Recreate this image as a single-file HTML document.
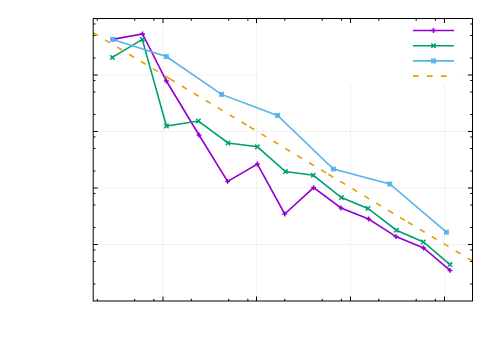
<!DOCTYPE html>
<html><head><meta charset="utf-8"><title>plot</title>
<style>html,body{margin:0;padding:0;background:#fff;font-family:"Liberation Sans",sans-serif}svg{display:block}</style></head>
<body>
<svg width="500" height="350" viewBox="0 0 500 350">
<rect width="500" height="350" fill="#fff"/>
<path d="M163.00 19V301.0M256.50 19V301.0M350.50 19V301.0M444.50 19V301.0M94 75.00H472.5M94 131.50H472.5M94 188.00H472.5M94 244.50H472.5" stroke="#e4e4e4" stroke-width="1" stroke-dasharray="1 1.06" fill="none"/>
<polyline points="112.6,39.4 142.5,33.9 166.4,81.0 199.0,135.0 227.6,181.4 257.4,164.0 284.7,214.0 313.6,187.6 341.0,208.0 368.6,219.0 396.0,236.6 423.6,248.0 450.0,270.4" fill="none" stroke="#9400D3" stroke-width="1.6" stroke-linejoin="miter" stroke-linecap="butt"/>
<path d="M110.2 39.4H115.0M112.6 37.0V41.8M140.1 33.9H144.9M142.5 31.5V36.3M164.0 81.0H168.8M166.4 78.6V83.4M196.6 135.0H201.4M199.0 132.6V137.4M225.2 181.4H230.0M227.6 179.0V183.8M255.0 164.0H259.8M257.4 161.6V166.4M282.3 214.0H287.1M284.7 211.6V216.4M311.2 187.6H316.0M313.6 185.2V190.0M338.6 208.0H343.4M341.0 205.6V210.4M366.2 219.0H371.0M368.6 216.6V221.4M393.6 236.6H398.4M396.0 234.2V239.0M421.2 248.0H426.0M423.6 245.6V250.4M447.6 270.4H452.4M450.0 268.0V272.8" fill="none" stroke="#9400D3" stroke-width="1.5"/>
<polyline points="112.4,57.4 142.3,39.4 166.4,126.0 198.4,121.0 228.0,143.0 257.4,146.8 285.4,171.6 313.3,175.3 341.4,197.6 368.0,208.4 396.4,230.2 423.4,242.0 450.0,264.6" fill="none" stroke="#009E73" stroke-width="1.6" stroke-linejoin="miter" stroke-linecap="butt"/>
<path d="M110.2 55.2L114.6 59.6M110.2 59.6L114.6 55.2M140.1 37.2L144.5 41.6M140.1 41.6L144.5 37.2M164.2 123.8L168.6 128.2M164.2 128.2L168.6 123.8M196.2 118.8L200.6 123.2M196.2 123.2L200.6 118.8M225.8 140.8L230.2 145.2M225.8 145.2L230.2 140.8M255.2 144.6L259.6 149.0M255.2 149.0L259.6 144.6M283.2 169.4L287.6 173.8M283.2 173.8L287.6 169.4M311.1 173.1L315.5 177.5M311.1 177.5L315.5 173.1M339.2 195.4L343.6 199.8M339.2 199.8L343.6 195.4M365.8 206.2L370.2 210.6M365.8 210.6L370.2 206.2M394.2 228.0L398.6 232.4M394.2 232.4L398.6 228.0M421.2 239.8L425.6 244.2M421.2 244.2L425.6 239.8M447.8 262.4L452.2 266.8M447.8 266.8L452.2 262.4" fill="none" stroke="#009E73" stroke-width="1.5"/>
<polyline points="112.6,39.4 166.4,56.6 221.6,94.4 277.5,115.4 333.4,169.0 389.8,184.0 446.4,232.2" fill="none" stroke="#56B4E9" stroke-width="1.6" stroke-linejoin="miter" stroke-linecap="butt"/>
<path d="M110.1 39.4H115.1M112.6 36.9V41.9M110.3 37.1L114.9 41.7M110.3 41.7L114.9 37.1M163.9 56.6H168.9M166.4 54.1V59.1M164.1 54.3L168.7 58.9M164.1 58.9L168.7 54.3M219.1 94.4H224.1M221.6 91.9V96.9M219.3 92.1L223.9 96.7M219.3 96.7L223.9 92.1M275.0 115.4H280.0M277.5 112.9V117.9M275.2 113.1L279.8 117.7M275.2 117.7L279.8 113.1M330.9 169.0H335.9M333.4 166.5V171.5M331.1 166.7L335.7 171.3M331.1 171.3L335.7 166.7M387.3 184.0H392.3M389.8 181.5V186.5M387.5 181.7L392.1 186.3M387.5 186.3L392.1 181.7M443.9 232.2H448.9M446.4 229.7V234.7M444.1 229.9L448.7 234.5M444.1 234.5L448.7 229.9" fill="none" stroke="#56B4E9" stroke-width="1.5"/>
<path d="M93.2 32.70L169.9 78.87M169.9 78.87L249.4 126.73M249.4 126.73L328.4 174.29M328.4 174.29L407.8 222.09M407.8 222.09L472.5 261.04" stroke="#E69F00" stroke-width="1.6" stroke-dasharray="5.7 8.25" fill="none"/>
<rect x="257.5" y="19" width="205" height="64.3" fill="#fff"/>
<path d="M413 30.5H454" stroke="#9400D3" stroke-width="1.6" fill="none"/>
<path d="M431.1 30.5H435.9M433.5 28.1V32.9" fill="none" stroke="#9400D3" stroke-width="1.5"/>
<path d="M413 45.7H454" stroke="#009E73" stroke-width="1.6" fill="none"/>
<path d="M431.3 43.5L435.7 47.9M431.3 47.9L435.7 43.5" fill="none" stroke="#009E73" stroke-width="1.5"/>
<path d="M413 60.9H454" stroke="#56B4E9" stroke-width="1.6" fill="none"/>
<path d="M431.0 60.9H436.0M433.5 58.4V63.4M431.2 58.6L435.8 63.2M431.2 63.2L435.8 58.6" fill="none" stroke="#56B4E9" stroke-width="1.5"/>
<path d="M413 76.1H454" stroke="#E69F00" stroke-width="1.6" stroke-dasharray="5.7 8.25" fill="none"/>
<path d="M163.00 301.0v-4.5M163.00 18.5v4.5M256.50 301.0v-4.5M256.50 18.5v4.5M350.50 301.0v-4.5M350.50 18.5v4.5M444.50 301.0v-4.5M444.50 18.5v4.5M97.30 301.0v-2.25M97.30 18.5v2.25M134.70 301.0v-2.25M134.70 18.5v2.25M153.89 301.0v-2.25M153.89 18.5v2.25M191.30 301.0v-2.25M191.30 18.5v2.25M228.70 301.0v-2.25M228.70 18.5v2.25M247.89 301.0v-2.25M247.89 18.5v2.25M284.80 301.0v-2.25M284.80 18.5v2.25M322.20 301.0v-2.25M322.20 18.5v2.25M341.39 301.0v-2.25M341.39 18.5v2.25M378.80 301.0v-2.25M378.80 18.5v2.25M416.20 301.0v-2.25M416.20 18.5v2.25M435.39 301.0v-2.25M435.39 18.5v2.25M93.2 75.00h4.5M472.5 75.00h-4.5M93.2 131.50h4.5M472.5 131.50h-4.5M93.2 188.00h4.5M472.5 188.00h-4.5M93.2 244.50h4.5M472.5 244.50h-4.5M93.2 57.99h2.25M472.5 57.99h-2.25M93.2 35.51h2.25M472.5 35.51h-2.25M93.2 23.98h2.25M472.5 23.98h-2.25M93.2 114.49h2.25M472.5 114.49h-2.25M93.2 92.01h2.25M472.5 92.01h-2.25M93.2 80.48h2.25M472.5 80.48h-2.25M93.2 170.99h2.25M472.5 170.99h-2.25M93.2 148.51h2.25M472.5 148.51h-2.25M93.2 136.98h2.25M472.5 136.98h-2.25M93.2 227.49h2.25M472.5 227.49h-2.25M93.2 205.01h2.25M472.5 205.01h-2.25M93.2 193.48h2.25M472.5 193.48h-2.25M93.2 283.99h2.25M472.5 283.99h-2.25M93.2 261.51h2.25M472.5 261.51h-2.25M93.2 249.98h2.25M472.5 249.98h-2.25" stroke="#000" stroke-width="1" fill="none"/>
<rect x="93.2" y="18.5" width="379.30" height="282.50" fill="none" stroke="#000" stroke-width="1"/>
</svg>
</body></html>
